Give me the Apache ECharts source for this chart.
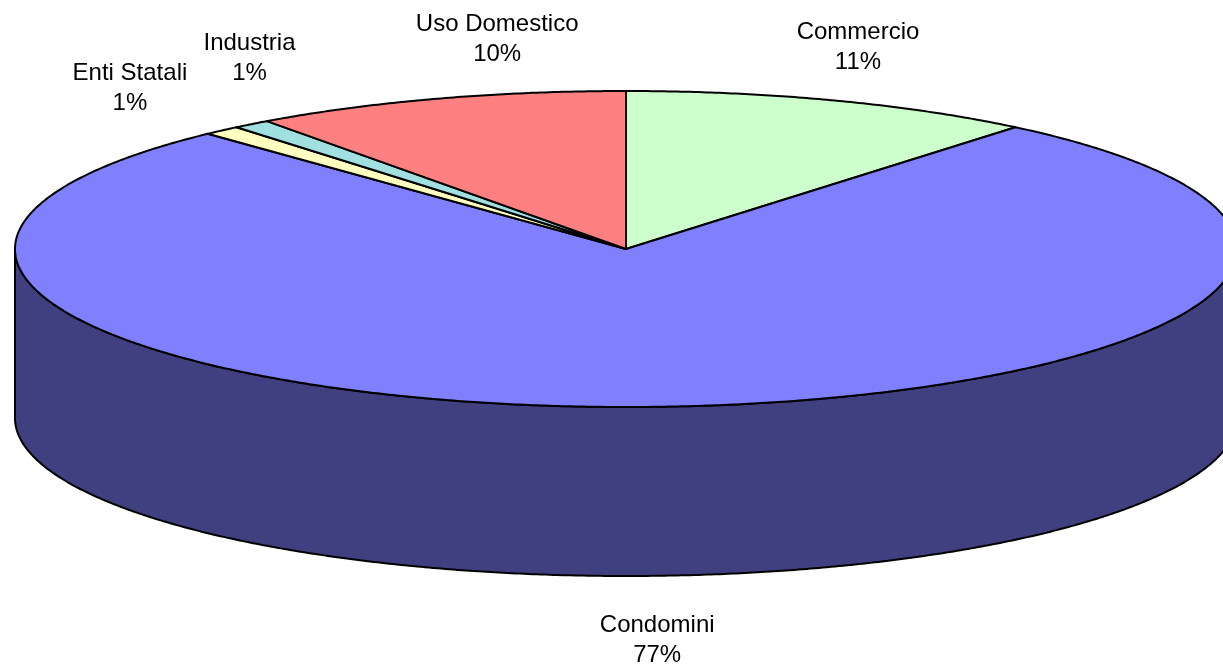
<!DOCTYPE html>
<html>
<head>
<meta charset="utf-8">
<script src="https://cdn.jsdelivr.net/npm/echarts@6/dist/echarts.min.js"></script>
<style>
  html, body { margin: 0; padding: 0; background: #ffffff; }
  #chart { width: 1223px; height: 667px; }
</style>
</head>
<body>
<div id="chart"></div>
<script>
// Consumer categories and their shares
const categories = ['Commercio', 'Condomini', 'Enti Statali', 'Industria', 'Uso Domestico'];
const values = [11, 77, 1, 1, 10];

// Slice colours: top face and the darker rim side
const topColors = ['#CCFFCC', '#8080FF', '#FFFFC0', '#A0E0E0', '#FF8080'];
const sideColors = ['#668066', '#404080', '#808060', '#507070', '#804040'];

// Label nudges (px) from the rim point at each slice's mid angle
const labelNudge = [[25, -53], [12, 64], [-92, -42], [-2, -66], [60, -59]];

// Tilted disc geometry
const disc = { cx: 626, cy: 249, rx: 611, ry: 158, depth: 169 };

const total = values.reduce((a, b) => a + b, 0);
const startAngles = [];
let acc = 0;
values.forEach(v => { startAngles.push(acc / total * 360); acc += v; });

// Angle measured clockwise from 12 o'clock, in degrees
function rimPoint(deg, drop) {
  const r = deg * Math.PI / 180;
  return [disc.cx + disc.rx * Math.sin(r), disc.cy - disc.ry * Math.cos(r) + drop];
}
function arc(a0, a1, drop) {
  const n = Math.max(2, Math.ceil((a1 - a0) / 0.4));
  const pts = [];
  for (let i = 0; i <= n; i++) pts.push(rimPoint(a0 + (a1 - a0) * i / n, drop));
  return pts;
}

const lineStyle = { stroke: '#000000', lineWidth: 2, lineJoin: 'round' };

function renderItem(params, api) {
  const i = params.dataIndex;
  const v = api.value(0);
  const a0 = startAngles[i];
  const a1 = a0 + v / total * 360;
  const children = [];

  // front-facing rim (between 3 and 9 o'clock, lower half)
  const b0 = Math.max(a0, 90), b1 = Math.min(a1, 270);
  if (b1 > b0) {
    const side = arc(b0, b1, 0).concat(arc(b0, b1, disc.depth).reverse());
    children.push({
      type: 'polygon', z2: 1,
      shape: { points: side },
      style: Object.assign({ fill: sideColors[i] }, lineStyle)
    });
  }

  // top face
  const top = [[disc.cx, disc.cy]].concat(arc(a0, a1, 0));
  children.push({
    type: 'polygon', z2: 2,
    shape: { points: top },
    style: Object.assign({ fill: topColors[i] }, lineStyle)
  });

  // label outside the slice
  const mid = (a0 + a1) / 2;
  const front = Math.cos(mid * Math.PI / 180) < 0;
  const anchor = rimPoint(mid, front ? disc.depth : 0);
  children.push({
    type: 'text', z2: 3,
    x: anchor[0] + labelNudge[i][0],
    y: anchor[1] + labelNudge[i][1],
    style: {
      text: categories[i] + '\n' + Math.round(v / total * 100) + '%',
      fill: '#000000',
      font: '24px "Liberation Sans", Arial, sans-serif',
      lineHeight: 30,
      align: 'center',
      verticalAlign: 'middle'
    }
  });

  return { type: 'group', children: children };
}

const chart = echarts.init(document.getElementById('chart'), null, { renderer: 'canvas' });
chart.setOption({
  animation: false,
  backgroundColor: '#ffffff',
  series: [{
    type: 'custom',
    coordinateSystem: 'none',
    renderItem: renderItem,
    data: values.map((v, k) => ({ name: categories[k], value: [v] }))
  }]
});
</script>
</body>
</html>
